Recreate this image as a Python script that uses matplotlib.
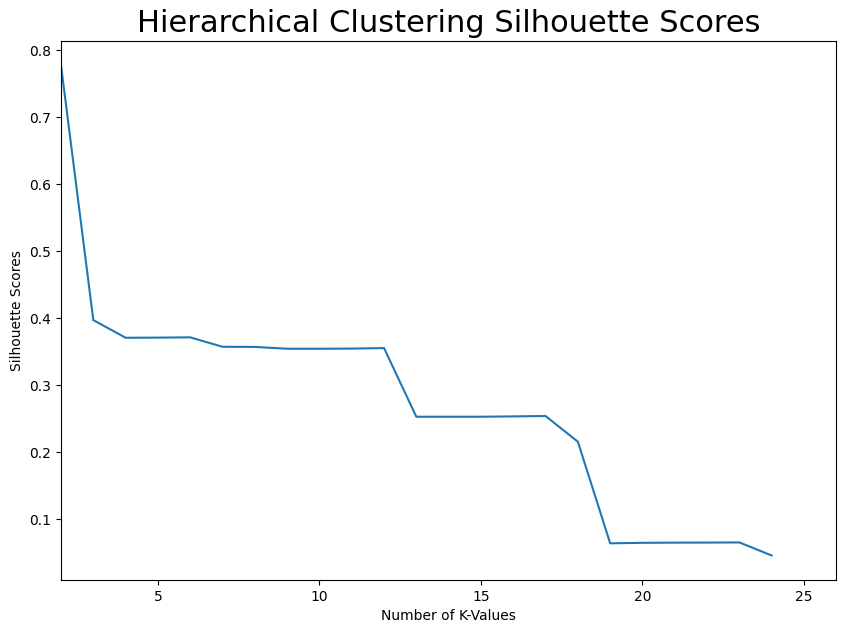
import matplotlib
matplotlib.use("Agg")
import matplotlib.pyplot as plt

k_values = list(range(2, 25))
scores = [0.7780, 0.3972, 0.3708, 0.3710, 0.3714, 0.3573, 0.3571, 0.3544,
          0.3544, 0.3546, 0.3554, 0.2528, 0.2528, 0.2528, 0.2533, 0.2539,
          0.2155, 0.0637, 0.0644, 0.0647, 0.0648, 0.0650, 0.0455]

fig = plt.figure(figsize=(8.46, 6.33), dpi=100)
ax = fig.add_axes([61/846, 1-580/633, (836.3-61)/846, (580-40.7)/633])
ax.plot(k_values, scores, color="#1f77b4", linewidth=1.5)
ax.set_xlim(2, 26)
ax.set_title("Hierarchical Clustering Silhouette Scores", fontsize=22)
ax.set_xlabel("Number of K-Values")
ax.set_ylabel("Silhouette Scores")
fig.savefig("out.png", dpi=100)
